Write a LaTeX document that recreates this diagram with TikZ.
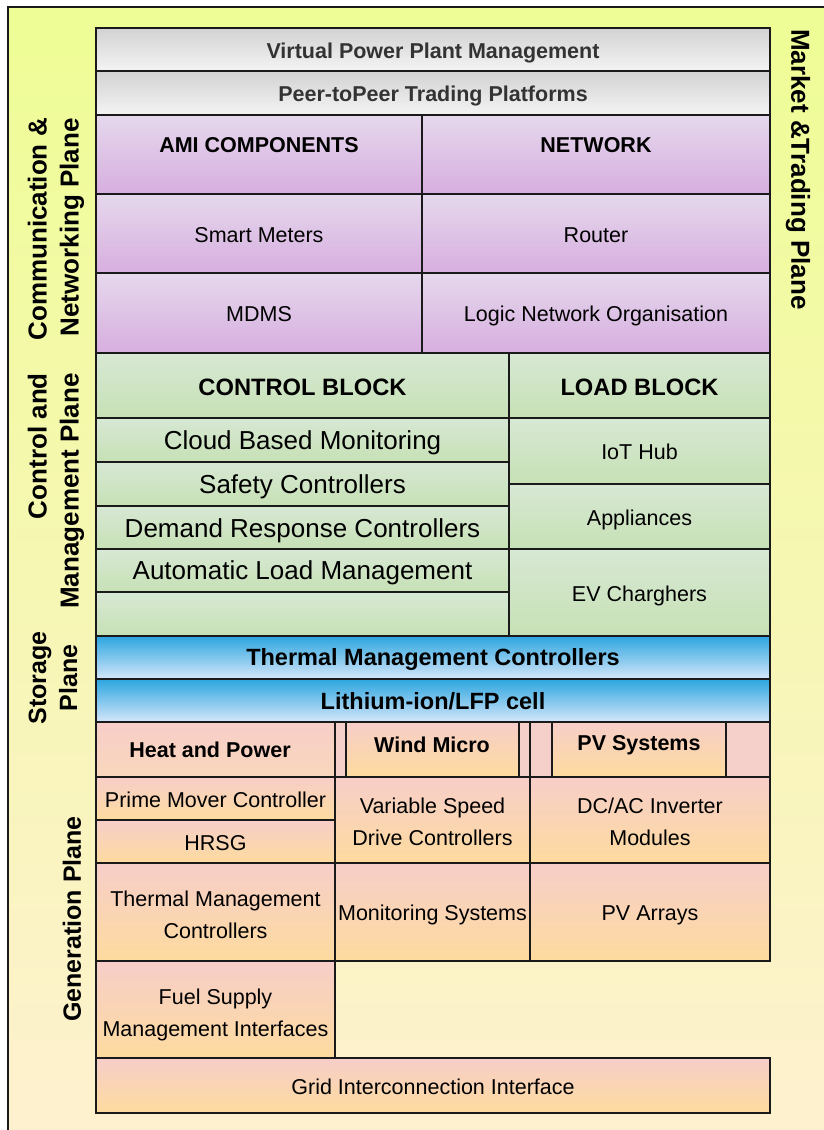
\documentclass[tikz,border=0pt]{standalone}
\usepackage{fontspec}
\setmainfont{Liberation Sans}
\usetikzlibrary{calc}

\definecolor{linec}{HTML}{1A1A1A}
\definecolor{bgtop}{HTML}{EEFD95}
\definecolor{bgbot}{HTML}{FEF1D0}
\definecolor{graytop}{HTML}{D2D2D2}
\definecolor{graybot}{HTML}{F4F4F4}
\definecolor{purtop}{HTML}{E5D8EC}
\definecolor{purbot}{HTML}{D7AEE0}
\definecolor{grntop}{HTML}{D7E8D4}
\definecolor{grnbot}{HTML}{C7E1B5}
\definecolor{blutop}{HTML}{2CA6DF}
\definecolor{blubot}{HTML}{D5E6FA}
\definecolor{gentop}{HTML}{F7CEC9}
\definecolor{genbot}{HTML}{FDDB9E}
\definecolor{hpbot}{HTML}{F9D7BC}
\definecolor{hdrpink}{HTML}{F5CFC9}
\definecolor{graytext}{HTML}{333333}

% empty box: name, fill style, x0, y0, x1, y1  (y grows downward)
\newcommand{\mkbox}[6]{%
  \pgfmathsetmacro{\mkw}{#5-#3}%
  \pgfmathsetmacro{\mkh}{#6-#4}%
  \node[cellb,#2, minimum width=\mkw pt, minimum height=\mkh pt] (#1)
    at ({(#3+#5)/2},{(#4+#6)/2}) {};}
% box with its label: [text drop]{name}{fill}{text style}{x0}{y0}{x1}{y1}{text}
\newcommand{\mkcell}[9][1]{%
  \mkbox{#2}{#3}{#5}{#6}{#7}{#8}%
  \node[freetext,#4] (#2-text) at ({(#5+#7)/2},{(#6+#8)/2+#1}) {#9};}

\begin{document}
\begin{tikzpicture}[x=1pt,y=-1pt,
  cellb/.style={draw=linec, line width=1.5pt, rectangle, inner sep=0pt,
    outer sep=0pt},
  grayfill/.style={top color=graytop, bottom color=graybot},
  purfill/.style={top color=purtop, bottom color=purbot},
  grnfill/.style={top color=grntop, bottom color=grnbot},
  blufill/.style={top color=blutop, bottom color=blubot},
  genfill/.style={top color=gentop, bottom color=genbot},
  hpfill/.style={top color=gentop, bottom color=hpbot},
  pinkfill/.style={fill=hdrpink},
  freetext/.style={inner sep=0pt, text=black, align=center},
  txtreg/.style={font=\fontsize{21.5}{32}\selectfont},
  oneline/.style={text height=15.4pt, text depth=0pt},
  txtone/.style={txtreg, oneline},
  txtbold/.style={font=\fontsize{21.5}{32}\selectfont\bfseries},
  txtgray/.style={font=\fontsize{21.5}{32}\selectfont\bfseries, text=graytext, oneline},
  txtbig/.style={font=\fontsize{26}{30}\selectfont, text height=18.6pt, text depth=0pt},
  txthead/.style={font=\fontsize{23.7}{28}\selectfont\bfseries, text height=17pt, text depth=0pt},
  txtstore/.style={font=\fontsize{23.5}{28}\selectfont\bfseries, text height=16.8pt, text depth=0pt},
  txtside/.style={font=\fontsize{26}{32}\selectfont\bfseries, inner sep=0pt, align=right},
]
\useasboundingbox (0,0) rectangle (823,1130);
\fill[white] (0,0) rectangle (823,1130);

% outer frame with soft background
\draw[line width=2pt, draw=linec, top color=bgtop, bottom color=bgbot]
  (8,7) rectangle (840,1145);

% market and trading plane
\mkcell{vpp}{grayfill}{txtgray}{96}{28}{770}{71}{Virtual Power Plant Management}
\mkcell{ptp}{grayfill}{txtgray}{96}{71}{770}{115}{Peer-toPeer Trading Platforms}

% communication and networking plane
\mkbox{ami}{purfill}{96}{115}{422}{194}
\mkbox{net}{purfill}{422}{115}{770}{194}
\node[freetext,txtbold] (amitext) at (259,145) {AMI COMPONENTS};
\node[freetext,txtbold] (nettext) at (596,145) {NETWORK};
\mkcell{sm}{purfill}{txtone}{96}{194}{422}{273}{Smart Meters}
\mkcell{rt}{purfill}{txtone}{422}{194}{770}{273}{Router}
\mkcell{mdms}{purfill}{txtone}{96}{273}{422}{353}{MDMS}
\mkcell{lno}{purfill}{txtone}{422}{273}{770}{353}{Logic Network Organisation}

% control and management plane
\mkcell{ctl}{grnfill}{txthead}{96}{353}{509}{418}{CONTROL BLOCK}
\mkcell{load}{grnfill}{txthead}{509}{353}{770}{418}{LOAD BLOCK}
\mkcell[0.5]{cbm}{grnfill}{txtbig}{96}{418}{509}{462}{Cloud Based Monitoring}
\mkcell[0.5]{saf}{grnfill}{txtbig}{96}{462}{509}{506}{Safety Controllers}
\mkcell[0.5]{drc}{grnfill}{txtbig}{96}{506}{509}{549}{Demand Response Controllers}
\mkcell[0]{alm}{grnfill}{txtbig}{96}{549}{509}{592}{Automatic Load Management}
\mkbox{spare}{grnfill}{96}{592}{509}{636}
\mkcell{iot}{grnfill}{txtone}{509}{418}{770}{484}{IoT Hub}
\mkcell{app}{grnfill}{txtone}{509}{484}{770}{549}{Appliances}
\mkcell{ev}{grnfill}{txtone}{509}{549}{770}{636}{EV Charghers}

% storage plane
\mkcell[0]{tmcs}{blufill}{txtstore}{96}{636}{770}{679}{Thermal Management Controllers}
\mkcell{lfp}{blufill}{txtstore}{96}{679}{770}{722}{Lithium-ion/LFP cell}

% generation plane
\mkbox{ghdr}{pinkfill}{96}{722}{770}{777}
\mkbox{hp}{hpfill}{96}{722}{335}{777}
\mkbox{wm}{genfill}{346}{722}{519}{777}
\mkbox{pvs}{genfill}{552}{722}{726}{777}
\node[freetext,txtbold] (hptext) at (210,750) {Heat and Power};
\node[freetext,txtbold] (wmtext) at (432,745) {Wind Micro};
\node[freetext,txtbold] (pvstext) at (639,745) {PV Systems};
\mkcell{pmc}{genfill}{txtone}{96}{777}{335}{820}{Prime Mover Controller}
\mkcell{hrsg}{genfill}{txtone}{96}{820}{335}{863}{HRSG}
\mkcell[2]{vsd}{genfill}{txtreg}{335}{777}{530}{863}{Variable Speed\\Drive Controllers}
\mkcell[2]{dcac}{genfill}{txtreg}{530}{777}{770}{863}{DC/AC Inverter\\Modules}
\draw[draw=linec, line width=1.5pt] (dcac.north west) -- (dcac.north west |- ghdr.north);
\mkcell[3]{tmcg}{genfill}{txtreg}{96}{863}{335}{961}{Thermal Management\\Controllers}
\mkcell{mon}{genfill}{txtone}{335}{863}{530}{961}{Monitoring Systems}
\mkcell{pva}{genfill}{txtone}{530}{863}{770}{961}{PV Arrays}
\mkcell[5]{fuel}{genfill}{txtreg}{96}{961}{335}{1058}{Fuel Supply\\Management Interfaces}
\mkcell{grid}{genfill}{txtone}{96}{1058}{770}{1113}{Grid Interconnection Interface}

% plane labels
\node[txtside, rotate=90, anchor=east] (commlabel) at (56,118) {Communication \&\\Networking Plane};
\node[txtside, rotate=90, anchor=east] (ctrllabel) at (56,373) {Control and\\Management Plane};
\node[txtside, rotate=90, align=center, font=\fontsize{25}{31}\selectfont\bfseries] (storelabel) at (53,678) {Storage\\Plane};
\node[txtside, rotate=90, anchor=east, font=\fontsize{25}{32}\selectfont\bfseries] (genlabel) at (72,816) {Generation Plane};
\node[txtside, rotate=-90, anchor=west] (marketlabel) at (798,29) {Market \&Trading Plane};
\end{tikzpicture}
\end{document}
